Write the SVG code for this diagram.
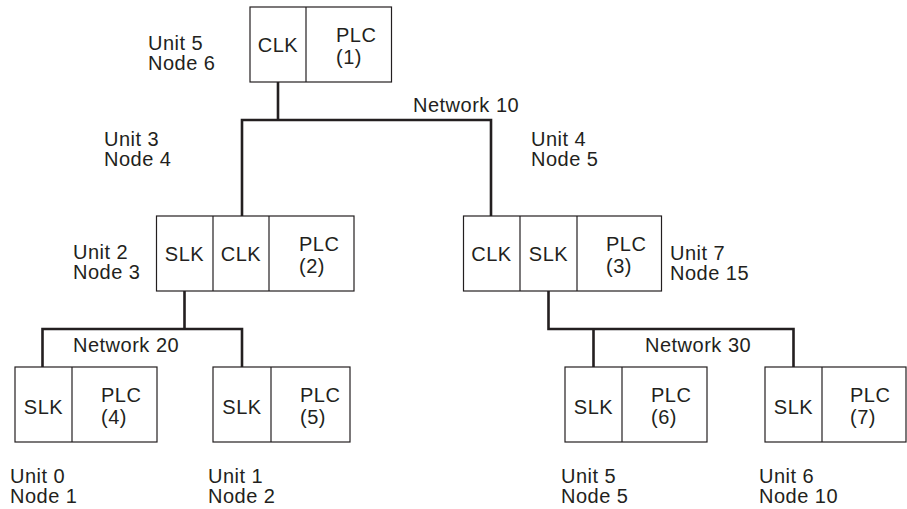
<svg xmlns="http://www.w3.org/2000/svg" width="907" height="509" viewBox="0 0 907 509">
<style>
.box{fill:#fff;stroke:#231f20;stroke-width:1.2}
.div{stroke:#231f20;stroke-width:1.2}
.t{font-family:"Liberation Sans",Arial,sans-serif;font-size:20px;letter-spacing:0.5px;fill:#231f20}
.c{text-anchor:middle}
.net{fill:none;stroke:#231f20;stroke-width:2.6;stroke-linejoin:miter;stroke-linecap:butt}
</style>
<rect width="907" height="509" fill="#fff"/>
<g id="connectors">
<path class="net" d="M278,82 V120 M242,216 V120 H491 V216"/>
<path class="net" d="M184.5,291 V329 M42.5,367 V329 H242 V367"/>
<path class="net" d="M548.5,291 V329 H793.5 V367 M593.5,329 V367"/>
</g>
<g id="net-labels">
<text class="t" x="413" y="112">Network 10</text>
<text class="t" x="73" y="352">Network 20</text>
<text class="t" x="645" y="352">Network 30</text>
</g>
<g id="plc1">
<rect class="box" x="250" y="7" width="141.5" height="75"/>
<line class="div" x1="306" y1="7" x2="306" y2="82"/>
<text class="t c" x="278" y="52">CLK</text>
<text class="t" x="336" y="42">PLC</text>
<text class="t" x="336" y="64">(1)</text>
<text class="t" x="148" y="50">Unit 5</text>
<text class="t" x="148" y="70">Node 6</text>
</g>
<g id="label-unit3">
<text class="t" x="104" y="146">Unit 3</text>
<text class="t" x="104" y="166">Node 4</text>
</g>
<g id="label-unit4">
<text class="t" x="531" y="146">Unit 4</text>
<text class="t" x="531" y="166">Node 5</text>
</g>
<g id="plc2">
<rect class="box" x="156.5" y="216" width="197.5" height="75"/>
<line class="div" x1="213" y1="216" x2="213" y2="291"/>
<line class="div" x1="269" y1="216" x2="269" y2="291"/>
<text class="t c" x="184.5" y="261">SLK</text>
<text class="t c" x="241" y="261">CLK</text>
<text class="t" x="299" y="251">PLC</text>
<text class="t" x="299" y="273">(2)</text>
<text class="t" x="73" y="259">Unit 2</text>
<text class="t" x="73" y="279">Node 3</text>
</g>
<g id="plc3">
<rect class="box" x="463.5" y="216" width="198" height="75"/>
<line class="div" x1="520" y1="216" x2="520" y2="291"/>
<line class="div" x1="577" y1="216" x2="577" y2="291"/>
<text class="t c" x="491.5" y="261">CLK</text>
<text class="t c" x="548.5" y="261">SLK</text>
<text class="t" x="606" y="251">PLC</text>
<text class="t" x="606" y="273">(3)</text>
<text class="t" x="670" y="260">Unit 7</text>
<text class="t" x="670" y="280">Node 15</text>
</g>
<g id="plc4">
<rect class="box" x="15" y="367" width="142" height="75"/>
<line class="div" x1="72" y1="367" x2="72" y2="442"/>
<text class="t c" x="43.5" y="414">SLK</text>
<text class="t" x="101" y="402">PLC</text>
<text class="t" x="101" y="424">(4)</text>
<text class="t" x="10" y="483">Unit 0</text>
<text class="t" x="10" y="503">Node 1</text>
</g>
<g id="plc5">
<rect class="box" x="213" y="367" width="137" height="75"/>
<line class="div" x1="271" y1="367" x2="271" y2="442"/>
<text class="t c" x="242" y="414">SLK</text>
<text class="t" x="300" y="402">PLC</text>
<text class="t" x="300" y="424">(5)</text>
<text class="t" x="208" y="483">Unit 1</text>
<text class="t" x="208" y="503">Node 2</text>
</g>
<g id="plc6">
<rect class="box" x="565" y="367" width="142" height="75"/>
<line class="div" x1="622" y1="367" x2="622" y2="442"/>
<text class="t c" x="593.5" y="414">SLK</text>
<text class="t" x="651" y="402">PLC</text>
<text class="t" x="651" y="424">(6)</text>
<text class="t" x="561" y="483">Unit 5</text>
<text class="t" x="561" y="503">Node 5</text>
</g>
<g id="plc7">
<rect class="box" x="765" y="367" width="141" height="75"/>
<line class="div" x1="822" y1="367" x2="822" y2="442"/>
<text class="t c" x="793.5" y="414">SLK</text>
<text class="t" x="850" y="402">PLC</text>
<text class="t" x="850" y="424">(7)</text>
<text class="t" x="759" y="483">Unit 6</text>
<text class="t" x="759" y="503">Node 10</text>
</g>
</svg>
